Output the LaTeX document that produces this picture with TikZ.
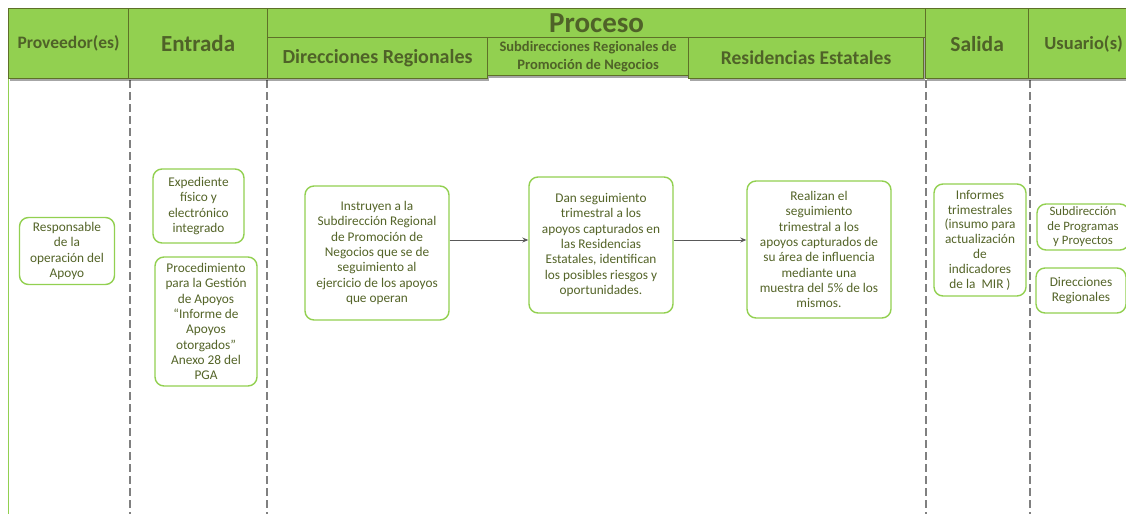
\documentclass[tikz,border=0pt]{standalone}
\usepackage{fontspec}
\setmainfont{Carlito}
\usetikzlibrary{arrows.meta,shadows}
\definecolor{hfill}{RGB}{146,208,80}
\definecolor{hline}{RGB}{94,112,40}
\definecolor{htext}{RGB}{79,98,40}
\definecolor{bline}{RGB}{146,208,80}
\definecolor{btext}{RGB}{84,100,40}
\definecolor{dgray}{RGB}{128,128,128}
\definecolor{agray}{RGB}{89,89,89}
\tikzset{
  hdr/.style={draw=hline, line width=1.2pt, fill=hfill, text=htext, anchor=north west,
    font=\bfseries, align=center, inner sep=0pt,
    drop shadow={shadow xshift=1pt, shadow yshift=-2pt, opacity=0.35, fill=black}},
  pbox/.style={draw=bline, line width=1.4pt, rounded corners=9pt, fill=white, text=btext,
    align=center, inner sep=1pt, font=\fontsize{13.3}{15.3}\selectfont},
  lane/.style={draw=dgray, line width=2.4pt, dash pattern=on 8pt off 4pt},
  arr/.style={draw=agray, line width=1pt, -{Stealth[length=6pt,width=5pt]}}
}
\begin{document}
\begin{tikzpicture}[x=1pt,y=-1pt]
\useasboundingbox[fill=white] (0,0) rectangle (1126,514);
% lane lines
\coordinate (l0t) at (8,78);   \coordinate (l0b) at (8,514);
\coordinate (l1t) at (130,80); \coordinate (l1b) at (130,514);
\coordinate (l2t) at (267,80); \coordinate (l2b) at (267,514);
\coordinate (l3t) at (926,80); \coordinate (l3b) at (926,514);
\coordinate (l4t) at (1030,80); \coordinate (l4b) at (1030,514);
\draw[bline, line width=1pt] (l0t) -- (l0b);
\draw[lane] (l1t) -- (l1b);
\draw[lane] (l2t) -- (l2b);
\draw[lane] (l3t) -- (l3b);
\draw[lane] (l4t) -- (l4b);
% header
\node[hdr, minimum width=120, minimum height=70, font=\bfseries\fontsize{17.5}{20}\selectfont] (hprov) at (8,8) {Proveedor(es)};
\node[hdr, minimum width=139, minimum height=70, font=\bfseries\fontsize{23}{26}\selectfont] (hent) at (128,8) {Entrada};
\node[hdr, minimum width=658, minimum height=29, font=\bfseries\fontsize{29}{30}\selectfont] (hproc) at (267,8) {Proceso};
\node[hdr, minimum width=220, minimum height=41, font=\bfseries\fontsize{20}{22}\selectfont] (hdr1) at (267,37) {Direcciones Regionales};
\node[hdr, minimum width=201, minimum height=38, font=\bfseries\fontsize{14.5}{18}\selectfont] (hsub) at (487,37) {Subdirecciones Regionales de\\Promoción de Negocios};
\node[hdr, minimum width=235, minimum height=41, font=\bfseries\fontsize{19.5}{22}\selectfont] (hres) at (688,37) {Residencias Estatales};
\node[hdr, minimum width=103, minimum height=70, font=\bfseries\fontsize{21.5}{24}\selectfont] (hsal) at (925,8) {Salida};
\node[hdr, minimum width=110, minimum height=70, font=\bfseries\fontsize{18.5}{21}\selectfont] (husr) at (1028,8) {Usuario(s)};
% boxes
\node[pbox, minimum width=95, minimum height=67] (resp) at (67,251) {Responsable\\de la\\operación del\\Apoyo};
\node[pbox, minimum width=91, minimum height=74] (exp) at (198.5,206) {Expediente\\físico y\\electrónico\\integrado};
\node[pbox, minimum width=102, minimum height=129] (proc) at (206,321.5) {Procedimiento\\para la Gestión\\de Apoyos\\“Informe de\\Apoyos\\otorgados”\\Anexo 28 del\\PGA};
\node[pbox, minimum width=144, minimum height=134] (inst) at (377,253) {Instruyen a la\\Subdirección Regional\\de Promoción de\\Negocios que se de\\seguimiento al\\ejercicio de los apoyos\\que operan};
\node[pbox, minimum width=144, minimum height=136] (dan) at (601,245) {Dan seguimiento\\trimestral a los\\apoyos capturados en\\las Residencias\\Estatales, identifican\\los posibles riesgos y\\oportunidades.};
\node[pbox, minimum width=144, minimum height=137] (real) at (819,249.5) {Realizan el\\seguimiento\\trimestral a los\\apoyos capturados de\\su área de influencia\\mediante una\\muestra del 5\% de los\\mismos.};
\node[pbox, minimum width=92, minimum height=112, font=\fontsize{13.3}{14.8}\selectfont] (inf) at (980,240) {Informes\\trimestrales\\(insumo para\\actualización\\de\\indicadores\\de la\ \ MIR )};
\node[pbox, minimum width=92, minimum height=46, font=\fontsize{12.8}{14.5}\selectfont] (sub) at (1083,227) {Subdirección\\de Programas\\y Proyectos};
\node[pbox, minimum width=90, minimum height=45] (dir) at (1081,290.5) {Direcciones\\Regionales};
% arrows
\coordinate (y0) at (0,240);
\draw[arr] (inst.east |- y0) -- (dan.west |- y0);
\draw[arr] (dan.east |- y0) -- (real.west |- y0);
\end{tikzpicture}
\end{document}
